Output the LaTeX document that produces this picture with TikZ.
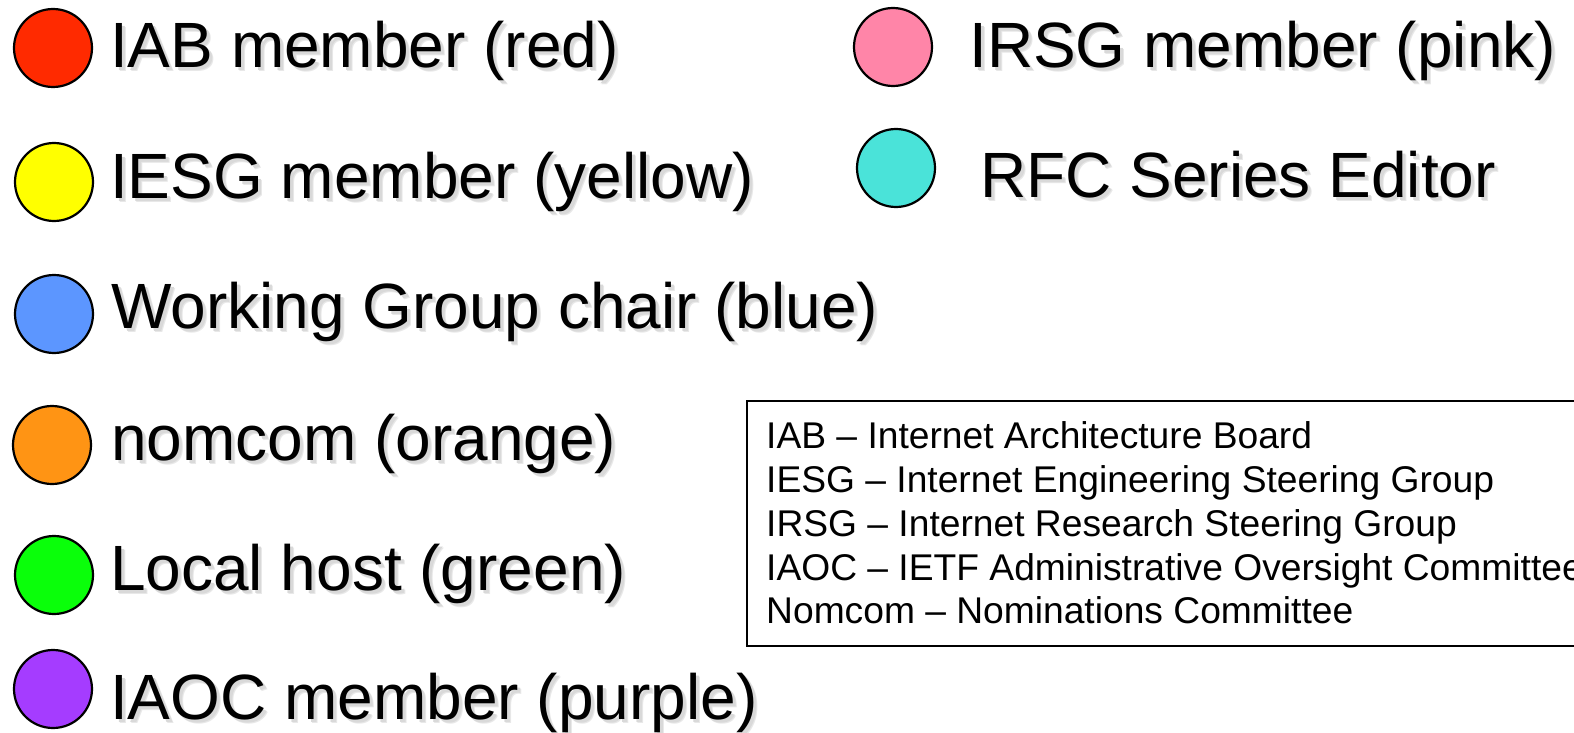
\documentclass[tikz,border=0pt]{standalone}
\usepackage{fontspec}
\setmainfont{Liberation Sans}
\definecolor{cred}{RGB}{255,42,0}
\definecolor{cyellow}{RGB}{255,255,0}
\definecolor{cblue}{RGB}{92,150,255}
\definecolor{corange}{RGB}{255,148,20}
\definecolor{cgreen}{RGB}{10,255,10}
\definecolor{cpurple}{RGB}{165,60,255}
\definecolor{cpink}{RGB}{255,133,168}
\definecolor{ccyan}{RGB}{74,227,217}
\newcommand\shtext[1]{%
  \makebox[0pt][l]{\hspace{4pt}\raisebox{-4pt}{\color{black!9}#1}}%
  \makebox[0pt][l]{\hspace{3pt}\raisebox{-3pt}{\color{black!15}#1}}%
  #1}
\tikzset{
  dot/.style={circle, draw=black, line width=2.2pt, minimum size=78pt, inner sep=0pt},
  big/.style={anchor=base west, inner sep=0pt, font=\fontsize{64}{76}\selectfont},
  small/.style={anchor=base west, inner sep=0pt, font=\fontsize{37.2}{44}\selectfont},
}
\begin{document}
\begin{tikzpicture}[x=1pt,y=-1pt]
\useasboundingbox (0,0) rectangle (1574,733);
\clip (0,0) rectangle (1574,733);
\fill[white] (0,0) rectangle (1574,733);
% circles
\node[dot, fill=cred]    (c1) at (53,48) {};
\node[dot, fill=cyellow] (c2) at (54,182) {};
\node[dot, fill=cblue]   (c3) at (54,314) {};
\node[dot, fill=corange] (c4) at (52,445) {};
\node[dot, fill=cgreen]  (c5) at (54,575) {};
\node[dot, fill=cpurple] (c6) at (53,689) {};
\node[dot, fill=cpink]   (c7) at (893,47) {};
\node[dot, fill=ccyan]   (c8) at (896,168) {};
% labels
\node[big] (t1) at (110,68)  {\shtext{IAB member (red)}};
\node[big] (t2) at (110,198) {\shtext{IESG member (yellow)}};
\node[big] (t3) at (111,328) {\shtext{Working Group chair (blue)}};
\node[big] (t4) at (111,460) {\shtext{nomcom (orange)}};
\node[big] (t5) at (110,590) {\shtext{Local host (green)}};
\node[big] (t6) at (110,719) {\shtext{IAOC member (purple)}};
\node[big] (t7) at (969,68)  {\shtext{IRSG member (pink)}};
\node[big] (t8) at (980,197) {\shtext{RFC Series Editor}};
% abbreviation box
\node[draw=black, line width=2pt, anchor=north west, minimum width=880pt, minimum height=245pt, inner sep=0pt] (box) at (746,400) {};
\node[small] (a1) at (766,448) {IAB – Internet Architecture Board};
\node[small] (a2) at (766,492) {IESG – Internet Engineering Steering Group};
\node[small] (a3) at (766,536) {IRSG – Internet Research Steering Group};
\node[small] (a4) at (766,580) {IAOC – IETF Administrative Oversight Committee};
\node[small] (a5) at (766,623) {Nomcom – Nominations Committee};
\end{tikzpicture}
\end{document}
